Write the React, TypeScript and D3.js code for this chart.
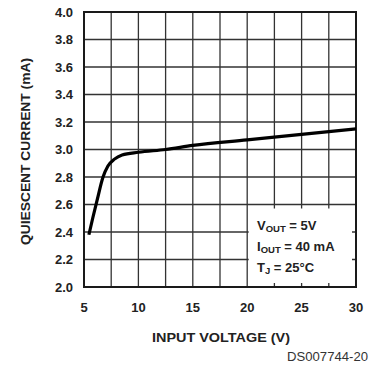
import React from "react";
import * as d3 from "d3";

// curve: input voltage (V) vs quiescent current (mA)
const inputVoltage = [5.45, 5.8, 6.2, 6.75, 7.2, 7.8, 8.5, 10, 12.5, 15, 20, 25, 30];
const quiescentCurrent = [2.38, 2.5, 2.63, 2.8, 2.88, 2.93, 2.96, 2.98, 3.0, 3.03, 3.07, 3.11, 3.15];

const xTickLabels = [5, 10, 15, 20, 25, 30];
const yTickLabels = [2.0, 2.2, 2.4, 2.6, 2.8, 3.0, 3.2, 3.4, 3.6, 3.8, 4.0];
const xGridValues = [7.5, 10, 12.5, 15, 17.5, 20, 22.5, 25, 27.5];

const W = 381;
const H = 367;
const margin = { left: 84, right: 25, top: 12, bottom: 80 };
const FONT = "'Liberation Sans', Arial, sans-serif";

export default function App() {
  const x = d3.scaleLinear().domain([5, 30]).range([margin.left, W - margin.right]);
  const y = d3.scaleLinear().domain([2, 4]).range([H - margin.bottom, margin.top]);

  const pts: [number, number][] = inputVoltage.map((v, i) => [v, quiescentCurrent[i]]);
  const line = d3
    .line<[number, number]>()
    .x(d => x(d[0]))
    .y(d => y(d[1]))
    .curve(d3.curveMonotoneX);

  const ink = "#1a1a1a";

  return (
    <svg
      width={W}
      height={H}
      style={{ position: "absolute", left: 0, top: 0, background: "#fff" }}
    >
      {/* grid */}
      {yTickLabels.slice(1, -1).map(v => (
        <line key={"h" + v} x1={x(5)} x2={x(30)} y1={y(v)} y2={y(v)} stroke="#333" strokeWidth={1.3} />
      ))}
      {xGridValues.map(v => (
        <line key={"v" + v} x1={x(v)} x2={x(v)} y1={y(2)} y2={y(4)} stroke="#333" strokeWidth={1.3} />
      ))}

      {/* blank area behind the conditions text, grid stubs left at edges */}
      <rect
        x={x(20) + 1.5}
        y={y(2.6) + 4}
        width={x(30) - x(20) - 5.5}
        height={y(2) - y(2.6) - 8}
        fill="#fff"
      />

      {/* frame */}
      <rect
        x={x(5)}
        y={y(4)}
        width={x(30) - x(5)}
        height={y(2) - y(4)}
        fill="none"
        stroke={ink}
        strokeWidth={2}
      />

      {/* curve */}
      <path d={line(pts) ?? ""} fill="none" stroke="#000" strokeWidth={3.2} strokeLinejoin="round" />

      {/* y ticks */}
      {yTickLabels.map(v => (
        <text
          key={"yl" + v}
          x={73}
          y={y(v)}
          dy="0.36em"
          textAnchor="end"
          fontFamily={FONT}
          fontWeight="bold"
          fontSize={13}
          fill="#222"
        >
          {v.toFixed(1)}
        </text>
      ))}

      {/* x ticks */}
      {xTickLabels.map(v => (
        <text
          key={"xl" + v}
          x={x(v)}
          y={307}
          dy="0.36em"
          textAnchor="middle"
          fontFamily={FONT}
          fontWeight="bold"
          fontSize={13}
          fill="#222"
        >
          {v}
        </text>
      ))}

      {/* axis titles */}
      <text
        transform={`translate(25, ${y(3) + 2}) rotate(-90)`}
        dy="0.36em"
        textAnchor="middle"
        fontFamily={FONT}
        fontWeight="bold"
        fontSize={12.5}
        fill="#222"
        textLength={187}
        lengthAdjust="spacingAndGlyphs"
      >
        QUIESCENT CURRENT (mA)
      </text>
      <text
        x={221}
        y={337}
        dy="0.36em"
        textAnchor="middle"
        fontFamily={FONT}
        fontWeight="bold"
        fontSize={12.5}
        fill="#222"
        textLength={138}
        lengthAdjust="spacingAndGlyphs"
      >
        INPUT VOLTAGE (V)
      </text>
      <text
        x={368}
        y={357}
        dy="0.36em"
        textAnchor="end"
        fontFamily={FONT}
        fontSize={12}
        fill="#333"
        textLength={81}
        lengthAdjust="spacingAndGlyphs"
      >
        DS007744-20
      </text>

      {/* test conditions */}
      <g fontFamily={FONT} fontWeight="bold" fontSize={13} fill="#222">
        <text x={257} y={230}>
          V<tspan fontSize={9.5} dy={2}>OUT</tspan>
          <tspan dy={-2}> = 5V</tspan>
        </text>
        <text x={257} y={251}>
          I<tspan fontSize={9.5} dy={2}>OUT</tspan>
          <tspan dy={-2}> = 40 mA</tspan>
        </text>
        <text x={257} y={272}>
          T<tspan fontSize={9.5} dy={2}>J</tspan>
          <tspan dy={-2}> = 25°C</tspan>
        </text>
      </g>
    </svg>
  );
}
